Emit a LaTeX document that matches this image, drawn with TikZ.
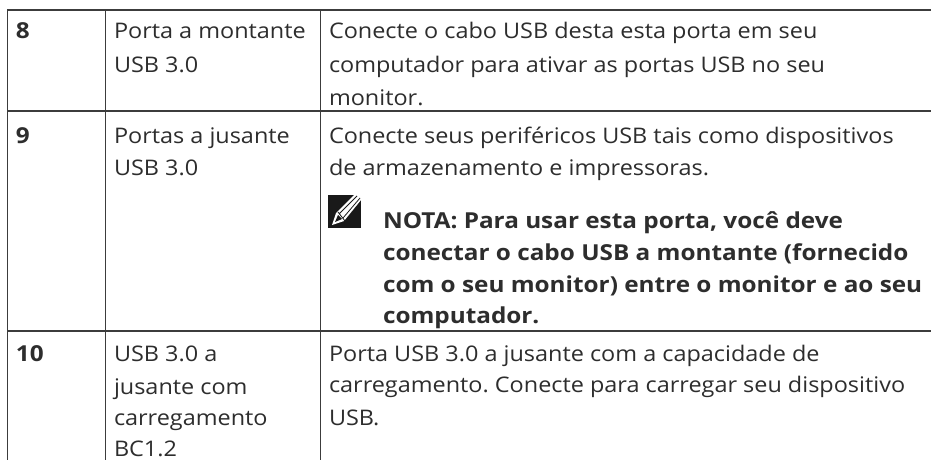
\documentclass[tikz,border=0pt]{standalone}
\usepackage{fontspec}
\setmainfont[Ligatures=NoCommon,FakeStretch=1.09,BoldFeatures={FakeStretch=1.105}]{Open Sans}
\definecolor{ink}{RGB}{45,45,45}
\definecolor{rulec}{RGB}{60,60,60}
\tikzset{
 cell/.style={anchor=base west,inner sep=0pt,outer sep=0pt,text=ink,font=\frenchspacing\fontsize{21.5}{26}\selectfont},
 boldcell/.style={cell,font=\frenchspacing\fontsize{22}{26}\selectfont\bfseries},
 tablerule/.style={draw=rulec,line width=1.5pt}
}
\begin{document}
\begin{tikzpicture}[x=1pt,y=-1pt]
\useasboundingbox[fill=white] (0,0) rectangle (931,460);
\draw[tablerule] (931,10) -- (7.5,10) -- (7.5,460);
\draw[tablerule] (7.5,111) -- (931,111);
\draw[tablerule] (7.5,331) -- (931,331);
\draw[tablerule] (105.5,10) -- (105.5,460);
\draw[tablerule] (320.5,10) -- (320.5,460);
\node[boldcell] (n8) at (16,38) {8};
\node[boldcell] (n9) at (16,143) {9};
\node[boldcell] (n10) at (16,361) {10};
\node[cell] (a1) at (114,38) {Porta a montante};
\node[cell] (a2) at (114,72) {USB 3.0};
\node[cell] (b1) at (114,143) {Portas a jusante};
\node[cell] (b2) at (114,175) {USB 3.0};
\node[cell] (c1) at (114,361) {USB 3.0 a};
\node[cell] (c2) at (114,394) {jusante com};
\node[cell] (c3) at (114,425) {carregamento};
\node[cell] (c4) at (114,456) {BC1.2};
\node[cell] (d1) at (329,38) {Conecte o cabo USB desta esta porta em seu};
\node[cell] (d2) at (329,72) {computador para ativar as portas USB no seu};
\node[cell] (d3) at (329,105) {monitor.};
\node[cell] (e1) at (329,143) {Conecte seus periféricos USB tais como dispositivos};
\node[cell] (e2) at (329,175) {de armazenamento e impressoras.};
\fill[black!90] (328,195) rectangle (361,228);
\fill[white] (332,225) -- (336,213) -- (354,195) -- (361,195) -- (361,200) -- (344,221) -- cycle;
\fill[black!90] (335,222) -- (338,215) -- (342,219) -- cycle;
\draw[black!90,line width=.8pt] (339,214) -- (357,196) (343,218) -- (360,198) (338,212) -- (345,221);
\node[boldcell] (f1) at (383,228) {NOTA: Para usar esta porta, você deve};
\node[boldcell] (f2) at (383,260) {conectar o cabo USB a montante (fornecido};
\node[boldcell] (f3) at (383,292) {com o seu monitor) entre o monitor e ao seu};
\node[boldcell] (f4) at (383,323) {computador.};
\node[cell] (g1) at (329,361) {Porta USB 3.0 a jusante com a capacidade de};
\node[cell] (g2) at (329,392) {carregamento. Conecte para carregar seu dispositivo};
\node[cell] (g3) at (329,425) {USB.};
\end{tikzpicture}
\end{document}
